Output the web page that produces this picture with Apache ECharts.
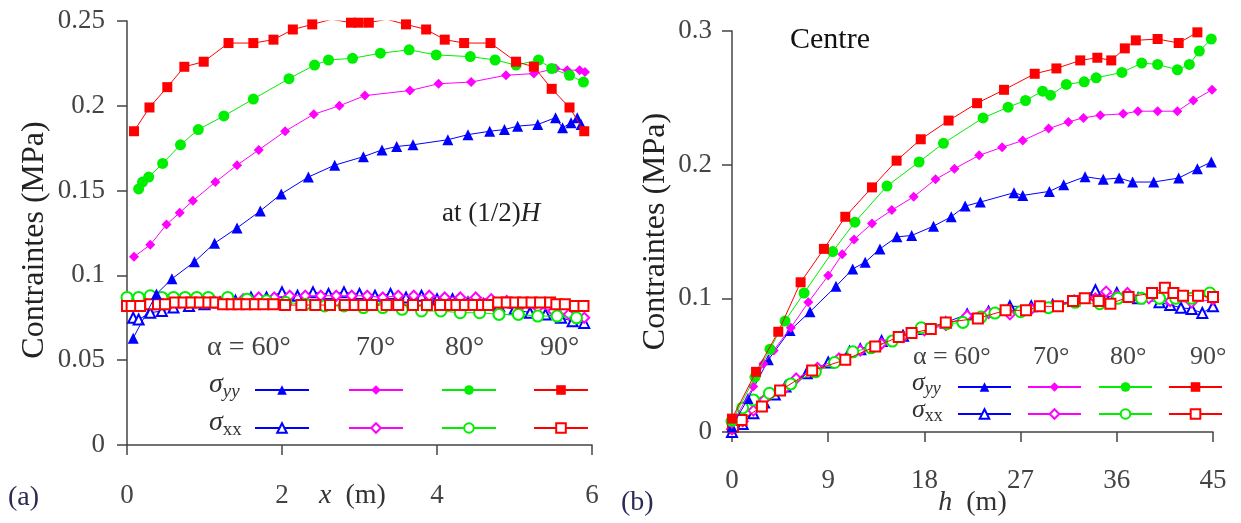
<!DOCTYPE html>
<html>
<head>
<meta charset="utf-8">
<script src="https://cdn.jsdelivr.net/npm/echarts@6/dist/echarts.min.js"></script>
<style>
html,body{margin:0;padding:0;background:#fff;}
#c{width:1241px;height:523px;}
</style>
</head>
<body>
<div id="c"></div>
<script>
// ---------------- Panel (a): stresses along x at (1/2)H ----------------
var aXTicks = [0, 2, 4, 6];
var aYTicks = [0, 0.05, 0.1, 0.15, 0.2, 0.25];

var a_yy60_x = [0.08,0.38,0.58,0.87,1.13,1.42,1.72,1.99,2.34,2.68,3.05,3.29,3.48,3.69,4.14,4.40,4.68,4.87,5.04,5.30,5.53,5.62,5.73,5.81,5.86];
var a_yy60_y = [0.063,0.089,0.098,0.108,0.119,0.128,0.138,0.148,0.158,0.165,0.170,0.174,0.176,0.177,0.180,0.183,0.185,0.186,0.188,0.189,0.193,0.187,0.190,0.193,0.189];

var a_yy70_x = [0.09,0.30,0.51,0.68,0.85,1.14,1.42,1.70,2.04,2.41,2.74,3.07,3.65,4.02,4.44,4.89,5.25,5.53,5.68,5.84,5.91];
var a_yy70_y = [0.111,0.118,0.130,0.137,0.144,0.155,0.165,0.174,0.185,0.195,0.200,0.206,0.209,0.213,0.214,0.218,0.219,0.222,0.221,0.221,0.220];

var a_yy80_x = [0.15,0.20,0.28,0.46,0.69,0.92,1.25,1.63,2.09,2.42,2.60,2.91,3.27,3.64,3.99,4.43,4.75,5.02,5.31,5.48,5.71,5.89];
var a_yy80_y = [0.151,0.155,0.158,0.166,0.177,0.186,0.194,0.204,0.216,0.224,0.227,0.228,0.231,0.233,0.230,0.229,0.227,0.224,0.227,0.222,0.218,0.214];

var a_yy90_x = [0.09,0.29,0.52,0.74,0.99,1.31,1.63,1.89,2.14,2.39,2.64,2.89,2.99,3.12,3.35,3.60,3.86,4.10,4.35,4.69,5.02,5.25,5.48,5.71,5.90];
var a_yy90_y = [0.185,0.199,0.211,0.223,0.226,0.237,0.237,0.239,0.245,0.248,0.251,0.249,0.249,0.249,0.251,0.248,0.245,0.239,0.237,0.237,0.226,0.223,0.210,0.199,0.185];

var a_xx60_x = [0.08,0.15,0.3,0.45,0.6,0.8,1.0,1.2,1.4,1.6,1.8,2.0,2.2,2.4,2.6,2.8,3.0,3.2,3.4,3.6,3.8,4.0,4.2,4.4,4.6,4.8,5.0,5.2,5.4,5.6,5.75,5.9];
var a_xx60_y = [0.075,0.074,0.078,0.079,0.081,0.082,0.083,0.084,0.085,0.087,0.087,0.090,0.088,0.090,0.089,0.090,0.089,0.088,0.089,0.087,0.088,0.086,0.086,0.084,0.083,0.082,0.080,0.078,0.077,0.075,0.073,0.072];

var a_xx70_x = [0.1,0.3,0.5,0.7,0.9,1.1,1.3,1.5,1.7,1.9,2.1,2.3,2.5,2.7,2.9,3.1,3.3,3.5,3.7,3.9,4.1,4.3,4.5,4.7,4.9,5.1,5.3,5.5,5.7,5.9];
var a_xx70_y = [0.085,0.086,0.086,0.086,0.086,0.086,0.086,0.086,0.087,0.087,0.088,0.088,0.088,0.088,0.088,0.088,0.087,0.088,0.088,0.088,0.087,0.087,0.087,0.086,0.085,0.083,0.081,0.079,0.077,0.075];

var a_xx80_x = [0,0.15,0.3,0.45,0.6,0.75,0.9,1.05,1.3,1.55,1.8,2.05,2.3,2.55,2.8,3.05,3.3,3.55,3.8,4.05,4.3,4.55,4.8,5.05,5.3,5.55,5.8];
var a_xx80_y = [0.087,0.087,0.088,0.087,0.087,0.087,0.087,0.087,0.087,0.086,0.085,0.084,0.083,0.082,0.082,0.081,0.081,0.080,0.079,0.079,0.078,0.078,0.077,0.077,0.076,0.076,0.075];

var a_xx90_x = [0,0.06,0.17,0.30,0.40,0.49,0.62,0.73,0.83,0.94,1.05,1.14,1.24,1.35,1.44,1.54,1.65,1.76,1.89,2.04,2.25,2.43,2.62,2.81,2.94,3.05,3.16,3.35,3.50,3.69,3.87,4.04,4.17,4.25,4.36,4.47,4.58,4.66,4.79,4.90,5.01,5.11,5.22,5.33,5.46,5.54,5.65,5.78,5.89];
var a_xx90_y = [0.082,0.082,0.082,0.083,0.083,0.083,0.084,0.084,0.084,0.084,0.084,0.084,0.083,0.083,0.083,0.083,0.083,0.083,0.083,0.0825,0.0825,0.0825,0.0825,0.0825,0.0825,0.0825,0.0825,0.0825,0.0825,0.0825,0.0825,0.0825,0.0825,0.0825,0.0825,0.0825,0.0825,0.0825,0.084,0.084,0.084,0.084,0.084,0.084,0.084,0.083,0.083,0.082,0.082];

// ---------------- Panel (b): stresses along h at centre ----------------
var bXTicks = [0, 9, 18, 27, 36, 45];
var bYTicks = [0, 0.1, 0.2, 0.3];

var b_yy60_x = [0,1.5,3.4,5.43,7.3,9.73,11.29,12.46,13.84,15.43,16.81,18.85,20.51,21.81,23.23,26.38,27.2,29.69,31.03,33.03,34.73,36.22,37.48,39.45,41.79,43.54,44.84];
var b_yy60_y = [0.004,0.025,0.054,0.076,0.090,0.109,0.122,0.127,0.137,0.146,0.147,0.154,0.161,0.169,0.172,0.179,0.177,0.180,0.185,0.191,0.189,0.190,0.187,0.187,0.190,0.197,0.202];

var b_yy70_x = [0,1.99,2.93,3.9,5.5,7.14,9.0,10.31,11.42,13.1,14.95,17.0,19.04,20.81,23.12,25.27,27.2,29.62,31.47,32.88,34.45,36.6,37.97,39.82,41.67,43.16,44.91];
var b_yy70_y = [0.006,0.034,0.051,0.061,0.078,0.097,0.117,0.133,0.144,0.156,0.166,0.176,0.189,0.197,0.207,0.213,0.218,0.227,0.232,0.235,0.237,0.238,0.240,0.240,0.240,0.248,0.256];

var b_yy80_x = [0,2.15,3.55,4.96,6.74,9.42,11.5,14.5,17.5,19.78,23.49,25.83,27.46,29.06,29.8,31.28,32.95,34.07,36.48,38.33,39.82,41.67,42.79,43.72,44.84];
var b_yy80_y = [0.008,0.041,0.062,0.083,0.104,0.135,0.157,0.184,0.202,0.216,0.235,0.243,0.248,0.255,0.252,0.260,0.262,0.265,0.269,0.276,0.275,0.271,0.275,0.285,0.294];

var b_yy90_x = [0,2.25,4.33,6.42,8.6,10.6,13.1,15.4,17.66,20.26,22.93,25.45,28.32,30.35,32.58,34.18,35.48,36.75,37.78,39.82,41.79,43.54];
var b_yy90_y = [0.010,0.045,0.075,0.112,0.137,0.161,0.183,0.203,0.219,0.233,0.246,0.256,0.268,0.272,0.278,0.280,0.278,0.287,0.293,0.294,0.291,0.299];

var b_xx60_x = [0,1,2,3,4,5,7,9,11,12,14,16,18,20,22,24,26,28,30,32,34,35,36,38,40,41,42,43,44,45];
var b_xx60_y = [0,0.006,0.014,0.022,0.028,0.034,0.044,0.052,0.060,0.062,0.068,0.072,0.077,0.082,0.088,0.090,0.094,0.094,0.095,0.098,0.106,0.100,0.104,0.100,0.097,0.095,0.093,0.092,0.089,0.094];

var b_xx70_x = [0,1,2,3,5,6,8,10,12,14,16,18,20,22,24,26,28,30,32,34,35,36,37,39,41,43,45];
var b_xx70_y = [0.002,0.008,0.016,0.024,0.033,0.040,0.048,0.055,0.061,0.066,0.071,0.076,0.080,0.087,0.089,0.088,0.092,0.094,0.098,0.100,0.105,0.102,0.104,0.100,0.098,0.097,0.099];

var b_xx80_x = [0,1,2,3.5,5.5,7.8,9.6,11.3,13,15,17.7,20.1,21.6,23.3,24.6,27,29.6,32.1,34.4,36.1,38.3,40,41.5,43,44.7];
var b_xx80_y = [0.008,0.018,0.024,0.029,0.036,0.045,0.052,0.060,0.063,0.068,0.078,0.081,0.082,0.086,0.089,0.090,0.093,0.097,0.096,0.100,0.100,0.100,0.100,0.100,0.104];

var b_xx90_x = [0.1,0.9,2.8,4.5,7.5,10.6,13.4,15.6,16.8,18.6,20,23,25.6,27.5,28.8,30.5,31.9,33,34.3,35.4,37.1,39.3,40.5,41.3,42.2,43.6,45];
var b_xx90_y = [0.004,0.009,0.019,0.031,0.046,0.054,0.064,0.071,0.074,0.077,0.082,0.085,0.091,0.091,0.094,0.094,0.098,0.100,0.098,0.096,0.101,0.104,0.108,0.104,0.102,0.102,0.101];

var angleLabels = ['60°', '70°', '80°', '90°'];
var colors = ['#0000ff', '#ff00ff', '#00ee00', '#ff0000'];
var filledSymbols = ['triangle', 'diamond', 'circle', 'rect'];
var emptySymbols = ['emptyTriangle', 'emptyDiamond', 'emptyCircle', 'emptyRect'];
var filledSizes = [11, 10, 11, 10];
var emptySizes = [10, 10, 11, 10];

function pairs(xs, ys) { return xs.map(function (x, i) { return [x, ys[i]]; }); }

var FONT = '"Liberation Serif", "DejaVu Serif", serif';
var chart = echarts.init(document.getElementById('c'), null, {renderer: 'canvas'});

var aYY = [[a_yy60_x,a_yy60_y],[a_yy70_x,a_yy70_y],[a_yy80_x,a_yy80_y],[a_yy90_x,a_yy90_y]];
var aXX = [[a_xx60_x,a_xx60_y],[a_xx70_x,a_xx70_y],[a_xx80_x,a_xx80_y],[a_xx90_x,a_xx90_y]];
var bYY = [[b_yy60_x,b_yy60_y],[b_yy70_x,b_yy70_y],[b_yy80_x,b_yy80_y],[b_yy90_x,b_yy90_y]];
var bXX = [[b_xx60_x,b_xx60_y],[b_xx70_x,b_xx70_y],[b_xx80_x,b_xx80_y],[b_xx90_x,b_xx90_y]];

var series = [];
var legends = [];
function addSeries(panel, kind, i, arr) {
  var name = panel + ' σ' + kind + ' ' + angleLabels[i];
  var empty = kind === 'xx';
  series.push({
    name: name, type: 'line',
    xAxisIndex: panel === 'a' ? 0 : 1, yAxisIndex: panel === 'a' ? 0 : 1,
    data: pairs(arr[0], arr[1]),
    symbol: empty ? emptySymbols[i] : filledSymbols[i],
    symbolSize: empty ? emptySizes[i] : filledSizes[i],
    showAllSymbol: true,
    lineStyle: {color: colors[i], width: 1},
    itemStyle: empty ? {color: colors[i], borderWidth: 1.2} : {color: colors[i]},
    z: empty ? 3 + i : 7 + i,
    animation: false
  });
  var lefts = panel === 'a' ? [254, 348, 441, 533] : [957, 1027, 1098, 1168];
  var rowY = panel === 'a' ? (kind === 'yy' ? 390 : 428) : (kind === 'yy' ? 387 : 414);
  legends.push({
    data: [name], left: lefts[i], top: rowY - 6, padding: 0,
    itemWidth: panel === 'a' ? 54 : 53, itemHeight: 12,
    formatter: function () { return ''; },
    textStyle: {fontSize: 10},
    selectedMode: false
  });
}
for (var i = 0; i < 4; i++) {
  addSeries('a', 'xx', i, aXX[i]);
  addSeries('b', 'xx', i, bXX[i]);
}
for (var j = 0; j < 4; j++) {
  addSeries('a', 'yy', j, aYY[j]);
  addSeries('b', 'yy', j, bYY[j]);
}

var axisLine = {lineStyle: {color: '#444', width: 1.5}};
var axisTick = {length: 10, lineStyle: {color: '#444', width: 1.5}};
var labelStyle = {color: '#444', fontFamily: FONT, fontSize: 27};

function txt(left, y, text, size, color) {
  return {type: 'text', left: left, top: y - size * 0.6, z: 100,
          style: {text: text, font: size + 'px ' + FONT, fill: color || '#444'}};
}
function sigRich(size, subSize, pad) {
  return {
    s: {fontFamily: FONT, fontSize: size, fontStyle: 'italic', fill: '#333'},
    sub: {fontFamily: FONT, fontSize: subSize, fontStyle: 'italic', fill: '#333', padding: [pad, 0, 0, 0]},
    subn: {fontFamily: FONT, fontSize: subSize, fill: '#333', padding: [pad, 0, 0, 0]}
  };
}
var richA = sigRich(28, 19, 14);
var richB = sigRich(26, 18, 12);

var graphics = [
  txt(207, 350, 'α = ' + angleLabels[0], 28),
  txt(356, 350, angleLabels[1], 28),
  txt(445, 350, angleLabels[2], 28),
  txt(540, 350, angleLabels[3], 28),
  txt(913, 360, 'α = ' + angleLabels[0], 26),
  txt(1033, 360, angleLabels[1], 26),
  txt(1110, 360, angleLabels[2], 26),
  txt(1190, 360, angleLabels[3], 26),
  {type: 'text', left: 209, top: 371, z: 100, style: {text: '{s|σ}{sub|yy}', rich: richA}},
  {type: 'text', left: 209, top: 409, z: 100, style: {text: '{s|σ}{subn|xx}', rich: richA}},
  {type: 'text', left: 912, top: 370, z: 100, style: {text: '{s|σ}{sub|yy}', rich: richB}},
  {type: 'text', left: 912, top: 397, z: 100, style: {text: '{s|σ}{subn|xx}', rich: richB}},
  {type: 'text', left: 442, top: 200, z: 100, style: {text: 'at (1/2){i|H}', font: '27px ' + FONT, fill: '#222', rich: {i: {fontFamily: FONT, fontSize: 27, fontStyle: 'italic', fill: '#222'}}}},
  {type: 'text', left: 790, top: 25, z: 100, style: {text: 'Centre', font: '30px ' + FONT, fill: '#111'}},
  {type: 'text', left: 8, top: 484, z: 100, style: {text: '(a)', font: '28px ' + FONT, fill: '#2a2a55'}},
  {type: 'text', left: 621, top: 489, z: 100, style: {text: '(b)', font: '28px ' + FONT, fill: '#2a2a55'}}
];

var nameRich = {i: {fontFamily: FONT, fontSize: 28, fontStyle: 'italic', color: '#333'}};

var option = {
  backgroundColor: '#ffffff',
  animation: false,
  grid: [
    {left: 127, right: 649, top: 21, bottom: 78, containLabel: false, outerBoundsMode: 'none'},
    {left: 732, right: 28, top: 31, bottom: 91, containLabel: false, outerBoundsMode: 'none'}
  ],
  xAxis: [
    {type: 'value', gridIndex: 0, min: aXTicks[0], max: aXTicks[aXTicks.length - 1], interval: aXTicks[1] - aXTicks[0],
     splitLine: {show: false}, axisLine: axisLine, axisTick: axisTick,
     axisLabel: Object.assign({margin: 37}, labelStyle),
     name: '{i|x}  (m)', nameLocation: 'middle', nameGap: 37, nameMoveOverlap: false,
     nameTextStyle: {fontFamily: FONT, fontSize: 28, color: '#333', rich: nameRich, padding: [0, 14, 0, 0]}},
    {type: 'value', gridIndex: 1, min: bXTicks[0], max: bXTicks[bXTicks.length - 1], interval: bXTicks[1] - bXTicks[0],
     splitLine: {show: false}, axisLine: axisLine, axisTick: axisTick,
     axisLabel: Object.assign({margin: 35}, labelStyle),
     name: '{i|h}  (m)', nameLocation: 'middle', nameGap: 57, nameMoveOverlap: false,
     nameTextStyle: {fontFamily: FONT, fontSize: 28, color: '#333', rich: nameRich}}
  ],
  yAxis: [
    {type: 'value', gridIndex: 0, min: aYTicks[0], max: aYTicks[aYTicks.length - 1], interval: aYTicks[1] - aYTicks[0],
     splitLine: {show: false}, axisLine: Object.assign({show: true}, axisLine), axisTick: Object.assign({show: true}, axisTick),
     axisLabel: Object.assign({margin: 22}, labelStyle),
     name: 'Contraintes (MPa)', nameLocation: 'middle', nameGap: 76, nameMoveOverlap: false,
     nameTextStyle: {fontFamily: FONT, fontSize: 32, color: '#222', padding: [0, 14, 0, 0]}},
    {type: 'value', gridIndex: 1, min: bYTicks[0], max: bYTicks[bYTicks.length - 1], interval: bYTicks[1] - bYTicks[0],
     splitLine: {show: false}, axisLine: Object.assign({show: true}, axisLine), axisTick: Object.assign({show: true}, axisTick),
     axisLabel: Object.assign({margin: 20}, labelStyle),
     name: 'Contraintes (MPa)', nameLocation: 'middle', nameGap: 60, nameMoveOverlap: false,
     nameTextStyle: {fontFamily: FONT, fontSize: 32, color: '#222'}}
  ],
  legend: legends,
  graphic: graphics,
  series: series
};
chart.setOption(option);
</script>
</body>
</html>
